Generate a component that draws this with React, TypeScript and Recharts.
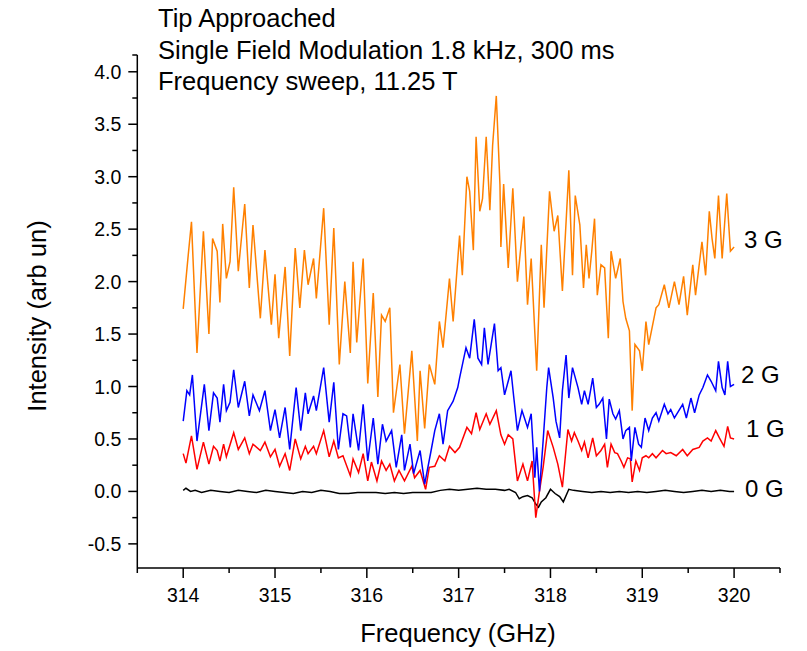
import { LineChart, Line, XAxis, YAxis } from 'recharts';

// frequency (GHz) / intensity pairs
const freq3G = [314.00,314.05,314.09,314.15,314.22,314.28,314.32,314.37,314.40,314.43,314.47,314.51,314.55,314.60,314.67,314.72,314.76,314.84,314.89,314.96,315.00,315.04,315.11,315.16,315.22,315.27,315.32,315.36,315.42,315.45,315.53,315.59,315.64,315.70,315.76,315.82,315.85,315.89,315.96,316.01,316.07,316.12,316.16,316.20,316.25,316.29,316.36,316.41,316.49,316.55,316.58,316.63,316.68,316.74,316.79,316.83,316.90,316.94,317.01,317.04,317.09,317.12,317.16,317.19,317.23,317.26,317.30,317.34,317.37,317.41,317.45,317.46,317.49,317.54,317.59,317.64,317.71,317.75,317.79,317.85,317.90,317.93,317.99,318.04,318.08,318.13,318.20,318.24,318.27,318.32,318.36,318.39,318.42,318.45,318.48,318.51,318.55,318.59,318.63,318.66,318.71,318.76,318.79,318.82,318.86,318.89,318.92,318.97,319.00,319.04,319.07,319.15,319.18,319.24,319.29,319.35,319.40,319.45,319.49,319.55,319.58,319.65,319.69,319.73,319.76,319.79,319.83,319.87,319.92,319.96,320.00];
const val3G = [1.74,2.21,2.57,1.32,2.48,1.50,2.41,2.29,1.80,2.55,2.03,2.19,2.90,2.10,2.74,1.94,2.54,1.65,2.30,1.59,2.07,1.46,2.14,1.29,2.32,1.75,2.30,1.97,2.22,1.84,2.70,1.59,2.51,1.21,2.00,1.32,2.19,1.42,2.22,1.03,1.89,0.90,1.68,1.62,1.75,0.75,1.21,0.55,1.34,0.48,1.15,0.60,1.21,1.02,1.62,1.37,2.03,1.62,2.44,2.06,3.00,2.86,2.30,3.38,2.67,2.79,3.38,2.68,3.30,3.77,2.92,2.33,2.93,2.13,2.89,2.00,2.62,1.78,2.22,1.15,2.35,1.75,2.86,2.48,2.63,1.91,3.06,2.06,2.82,2.54,1.94,2.35,2.03,2.29,2.60,1.87,2.16,2.13,1.46,2.29,2.03,2.22,1.81,1.65,1.53,0.77,1.40,1.34,1.15,1.62,1.40,1.75,1.78,1.97,1.75,2.00,1.78,2.05,1.68,2.16,1.87,2.38,2.06,2.67,2.41,2.22,2.82,2.22,2.84,2.29,2.33];

const freq2G = [314.00,314.04,314.07,314.10,314.15,314.23,314.28,314.33,314.37,314.40,314.44,314.47,314.51,314.55,314.60,314.67,314.72,314.76,314.83,314.89,314.95,315.00,315.05,315.11,315.16,315.23,315.28,315.33,315.36,315.42,315.45,315.53,315.59,315.64,315.69,315.74,315.78,315.82,315.85,315.91,315.96,316.01,316.07,316.12,316.17,316.21,316.27,316.32,316.38,316.41,316.47,316.51,316.58,316.63,316.70,316.74,316.79,316.83,316.88,316.94,316.99,317.01,317.08,317.12,317.17,317.21,317.25,317.28,317.32,317.39,317.43,317.46,317.50,317.57,317.60,317.64,317.69,317.75,317.79,317.83,317.85,317.88,317.92,317.96,317.98,318.03,318.06,318.10,318.13,318.17,318.20,318.24,318.30,318.34,318.37,318.41,318.46,318.50,318.53,318.57,318.61,318.64,318.68,318.71,318.75,318.79,318.82,318.86,318.88,318.92,318.96,318.99,319.03,319.07,319.11,319.15,319.18,319.24,319.28,319.31,319.35,319.44,319.48,319.53,319.57,319.62,319.66,319.71,319.75,319.80,319.83,319.87,319.90,319.93,319.96,320.00];
const val2G = [0.67,0.96,0.92,1.11,0.48,1.02,0.58,0.94,0.89,0.66,1.02,0.77,0.85,1.16,0.80,1.05,0.72,0.92,0.77,0.96,0.58,0.78,0.51,0.80,0.40,0.99,0.58,0.94,0.74,0.91,0.77,1.18,0.66,1.04,0.40,0.74,0.72,0.42,0.74,0.39,0.83,0.29,0.70,0.26,0.64,0.48,0.58,0.23,0.54,0.20,0.45,0.17,0.39,0.07,0.39,0.58,0.74,0.45,0.77,0.86,0.99,1.08,1.37,1.27,1.64,1.27,1.21,1.56,1.21,1.60,1.15,1.18,0.92,1.15,0.90,0.58,0.77,0.61,0.74,0.13,0.42,0.00,0.48,0.99,1.18,0.89,0.67,0.51,0.96,1.30,0.89,1.18,0.99,0.83,0.96,0.83,1.08,0.80,0.83,0.89,0.50,0.88,0.74,0.69,0.77,0.50,0.58,0.61,0.29,0.61,0.45,0.42,0.70,0.58,0.70,0.75,0.67,0.83,0.74,0.78,0.70,0.83,0.70,0.89,0.75,0.92,0.99,1.11,1.05,0.96,1.24,0.99,0.92,1.24,1.00,1.02];

const freq1G = [314.00,314.03,314.09,314.15,314.22,314.28,314.33,314.37,314.40,314.44,314.47,314.55,314.60,314.67,314.72,314.76,314.84,314.89,314.95,315.00,315.05,315.11,315.16,315.22,315.28,315.33,315.36,315.42,315.45,315.53,315.59,315.64,315.69,315.74,315.82,315.85,315.91,315.96,316.01,316.05,316.11,316.16,316.21,316.25,316.30,316.35,316.41,316.49,316.52,316.58,316.64,316.68,316.74,316.79,316.85,316.90,316.96,317.01,317.09,317.14,317.19,317.23,317.30,317.34,317.41,317.46,317.50,317.54,317.59,317.64,317.70,317.75,317.80,317.84,317.88,317.92,317.97,318.03,318.08,318.13,318.19,318.23,318.26,318.30,318.34,318.37,318.41,318.46,318.50,318.55,318.59,318.62,318.66,318.70,318.73,318.77,318.80,318.84,318.87,318.89,318.93,318.97,319.00,319.04,319.07,319.11,319.15,319.22,319.26,319.31,319.37,319.44,319.49,319.55,319.62,319.66,319.71,319.75,319.80,319.84,319.89,319.93,319.96,320.00];
const val1G = [0.36,0.27,0.53,0.21,0.47,0.26,0.43,0.39,0.29,0.45,0.33,0.56,0.40,0.51,0.36,0.45,0.39,0.47,0.33,0.40,0.24,0.36,0.20,0.50,0.31,0.43,0.36,0.43,0.36,0.58,0.33,0.48,0.32,0.34,0.15,0.31,0.18,0.36,0.10,0.28,0.10,0.29,0.20,0.26,0.10,0.20,0.10,0.24,0.13,0.20,0.02,0.23,0.24,0.34,0.29,0.43,0.37,0.42,0.61,0.55,0.75,0.59,0.74,0.64,0.77,0.54,0.45,0.54,0.50,0.10,0.26,0.10,0.29,-0.25,0.00,0.23,0.58,0.42,0.26,0.04,0.59,0.48,0.56,0.48,0.39,0.47,0.32,0.51,0.34,0.39,0.45,0.23,0.45,0.37,0.36,0.29,0.23,0.32,0.31,0.09,0.29,0.20,0.32,0.34,0.32,0.36,0.32,0.39,0.36,0.37,0.34,0.40,0.34,0.40,0.42,0.48,0.51,0.48,0.58,0.51,0.43,0.62,0.51,0.50];

const freq0G = [314.00,314.03,314.08,314.13,314.20,314.30,314.40,314.50,314.60,314.70,314.80,314.90,315.00,315.10,315.20,315.30,315.40,315.50,315.60,315.70,315.80,315.90,316.00,316.10,316.20,316.30,316.40,316.50,316.60,316.70,316.80,316.90,317.00,317.10,317.20,317.30,317.40,317.50,317.55,317.62,317.66,317.70,317.75,317.80,317.84,317.87,317.90,317.95,318.00,318.05,318.10,318.14,318.20,318.25,318.35,318.45,318.55,318.65,318.75,318.85,318.95,319.05,319.15,319.25,319.35,319.45,319.55,319.65,319.75,319.85,319.95,320.00];
const val0G = [0.01,0.03,0.00,0.01,-0.01,0.01,0.00,-0.01,0.01,0.00,-0.01,0.01,0.00,-0.01,-0.02,0.00,-0.01,0.01,0.00,-0.02,-0.02,-0.01,-0.01,-0.01,-0.02,-0.01,-0.02,-0.01,-0.01,-0.01,0.01,0.02,0.01,0.02,0.03,0.02,0.02,0.01,0.02,-0.01,-0.07,-0.05,-0.04,-0.06,-0.12,-0.15,-0.10,-0.06,0.02,-0.02,-0.05,-0.10,0.02,0.01,0.00,-0.01,0.00,-0.01,0.00,-0.01,0.00,-0.01,0.00,0.01,0.00,-0.01,0.00,0.01,0.00,0.01,0.00,0.00];

const xTicks = [313.5,314,314.5,315,315.5,316,316.5,317,317.5,318,318.5,319,319.5,320,320.5];
const yTicks = [-0.5,-0.25,0,0.25,0.5,0.75,1,1.25,1.5,1.75,2,2.25,2.5,2.75,3,3.25,3.5,3.75,4,4.16];

const titleLines = ['Tip Approached', 'Single Field Modulation 1.8 kHz, 300 ms', 'Frequency sweep, 11.25 T'];

const pairs = (f: number[], v: number[]) => f.map((x, i) => ({ f: x, v: v[i] }));

const FONT = '"Liberation Sans", Arial, sans-serif';

const XTick = ({ x, y, payload }: any) => {
  const major = Number.isInteger(payload.value);
  return (
    <g>
      <line x1={x} x2={x} y1={y} y2={y + (major ? 10 : 5)} stroke="#000" strokeWidth={1.5} />
      {major && (
        <text x={x} y={y + 34} textAnchor="middle" fontSize={19.5} fontFamily={FONT} fill="#000">
          {payload.value}
        </text>
      )}
    </g>
  );
};

const YTick = ({ x, y, payload }: any) => {
  const v = payload.value;
  const major = Math.abs(v * 2 - Math.round(v * 2)) < 1e-6;
  return (
    <g>
      <line x1={x} x2={x - (major ? 9 : 5)} y1={y} y2={y} stroke="#000" strokeWidth={1.5} />
      {major && (
        <text x={x - 16} y={y + 7} textAnchor="end" fontSize={19.5} fontFamily={FONT} fill="#000">
          {v.toFixed(1)}
        </text>
      )}
    </g>
  );
};

export default function App() {
  return (
    <div style={{ position: 'relative', width: 807, height: 651, background: '#fff' }}>
      <style>{'body{margin:0}'}</style>
      <LineChart width={807} height={651} margin={{ top: 55, right: 27, bottom: 0, left: 0 }}>
        <XAxis
          type="number"
          dataKey="f"
          domain={[313.5, 320.5]}
          ticks={xTicks}
          interval={0}
          height={83}
          tickSize={0}
          tickMargin={0}
          tickLine={false}
          tick={<XTick />}
          axisLine={{ stroke: '#000', strokeWidth: 1.5 }}
          allowDataOverflow
        />
        <YAxis
          type="number"
          domain={[-0.73, 4.16]}
          ticks={yTicks}
          interval={0}
          width={137.3}
          tickSize={0}
          tickMargin={0}
          tickLine={false}
          tick={<YTick />}
          axisLine={{ stroke: '#000', strokeWidth: 1.5 }}
          allowDataOverflow
        />
        <Line data={pairs(freq0G, val0G)} dataKey="v" stroke="#000000" strokeWidth={1.5} dot={false} isAnimationActive={false} />
        <Line data={pairs(freq1G, val1G)} dataKey="v" stroke="#ff0000" strokeWidth={1.5} dot={false} isAnimationActive={false} />
        <Line data={pairs(freq2G, val2G)} dataKey="v" stroke="#0000ff" strokeWidth={1.5} dot={false} isAnimationActive={false} />
        <Line data={pairs(freq3G, val3G)} dataKey="v" stroke="#ff8000" strokeWidth={1.5} dot={false} isAnimationActive={false} />
      </LineChart>
      <svg width={807} height={651} style={{ position: 'absolute', left: 0, top: 0, pointerEvents: 'none' }} fontFamily={FONT}>
        {titleLines.map((t, i) => (
          <text key={t} x={158} y={27 + i * 31.7} fontSize={25.5} fill="#000">{t}</text>
        ))}
        <text x={744} y={248} fontSize={24} fill="#000">3 G</text>
        <text x={741} y={383} fontSize={24} fill="#000">2 G</text>
        <text x={746} y={437} fontSize={24} fill="#000">1 G</text>
        <text x={745} y={497} fontSize={24} fill="#000">0 G</text>
        <text x={458} y={642} fontSize={25.5} textAnchor="middle" fill="#000">Frequency (GHz)</text>
        <text transform="translate(46,316) rotate(-90)" fontSize={25.5} textAnchor="middle" fill="#000">Intensity (arb un)</text>
      </svg>
    </div>
  );
}
